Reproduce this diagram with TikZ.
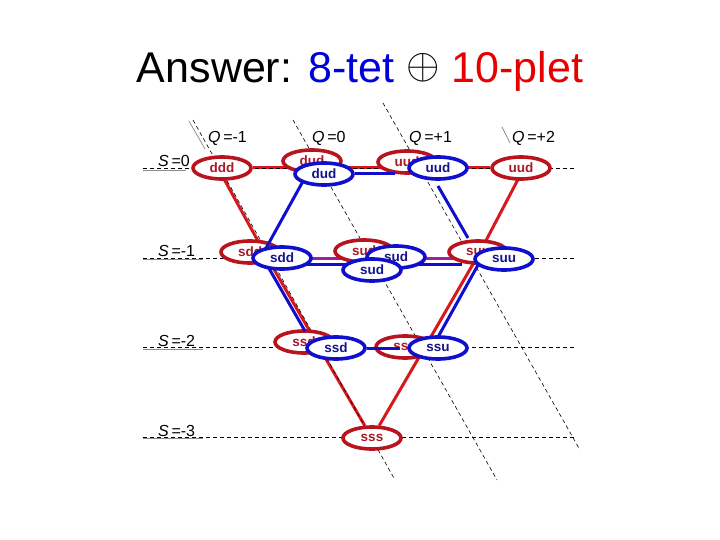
\documentclass[tikz,border=0pt]{standalone}
\usepackage{fontspec}
\setmainfont{Liberation Sans}
\usetikzlibrary{shapes.geometric,calc}
\definecolor{rline}{RGB}{215,25,30}
\definecolor{rdraw}{RGB}{185,20,30}
\definecolor{rtext}{RGB}{170,25,40}
\definecolor{bdraw}{RGB}{15,15,205}
\definecolor{btext}{RGB}{20,20,140}
\definecolor{purp}{RGB}{160,30,160}
\definecolor{tblue}{RGB}{0,0,220}
\definecolor{tred}{RGB}{230,0,0}
\pgfdeclarelayer{lbg}
\pgfdeclarelayer{lzero}
\pgfdeclarelayer{lone}
\pgfdeclarelayer{ltwo}
\pgfdeclarelayer{lthree}
\pgfdeclarelayer{lfour}
\pgfsetlayers{lbg,lzero,lone,ltwo,main,lthree,lfour}
\begin{document}
\begin{tikzpicture}[x=1pt,y=-1pt,
 particle/.style={ellipse, minimum width=58pt, minimum height=22pt, inner sep=0pt, line width=3.6pt, fill=white, font=\fontsize{13.5}{14}\selectfont\bfseries},
 dec/.style={particle, draw=rdraw, text=rtext},
 oct/.style={particle, draw=bdraw, text=btext},
 rl/.style={line width=3pt, rline},
 bl/.style={line width=3pt, bdraw},
 pl/.style={line width=3pt, purp},
 gridline/.style={dash pattern=on 4pt off 3pt, line width=0.6pt, black},
 tickline/.style={line width=0.8pt, black!45},
 lab/.style={font=\fontsize{16}{16}\selectfont, anchor=base west, inner sep=0pt}]
\begin{pgfonlayer}{lbg}
\fill[white] (0,0) rectangle (720,540);
\end{pgfonlayer}
\useasboundingbox (0,0) rectangle (720,540);

% title
\node[anchor=base, inner sep=0pt, font=\fontsize{43}{43}\selectfont] (title) at (360,83)
  {Answer: \textcolor{tblue}{8-tet} {\fontsize{10}{10}\selectfont\raisebox{4pt}{\scalebox{4.3}{$\oplus$}}} \textcolor{tred}{10-plet}};

% decuplet (red) nodes
\node[dec] (ddd)  at (222,168) {ddd};
\node[dec] (dudR) at (312,161) {dud};
\node[dec] (uudR) at (407,162) {uud};
\node[dec] (uuu)  at (521,168) {uud};
\node[dec] (sddR) at (250,252) {sdd};
\node[dec] (sudR) at (364,251) {sud};
\node[dec] (suuR) at (478,252) {suu};
\node[dec] (ssdR) at (304,342) {ssd};
\node[dec] (ssuR) at (405,347) {ssu};
\node[dec] (sss)  at (372,438) {sss};

% octet (blue) nodes
\begin{pgfonlayer}{lfour}
\node[oct] (dudB)  at (324,174) {dud};
\node[oct] (uudB)  at (438,168) {uud};
\node[oct] (sddB)  at (282,258) {sdd};
\node[oct] (sudB1) at (396,257) {sud};
\node[oct] (sudB2) at (372,270) {sud};
\node[oct] (suuB)  at (504,259) {suu};
\node[oct] (ssdB)  at (336,348) {ssd};
\node[oct] (ssuB)  at (438,348) {ssu};
\end{pgfonlayer}

% red connectors
\begin{pgfonlayer}{lzero}
\draw[rl] (ddd) -- (uuu);
\draw[rl] ($(ddd)+(-4,0)$) -- ($(sddR)+(14,0)$);
\draw[rl] ($(sddR)+(14,0)$) -- ($(ssdR)+(12,0)$);
\draw[rl] ($(ssdR)+(12,0)$) -- (sss);
\draw[rl] ($(uuu)+(3,0)$) -- ($(suuR)+(2,0)$);
\draw[rl] ($(suuR)+(2,0)$) -- ($(ssuR)+(20,0)$);
\draw[rl] ($(ssuR)+(20,0)$) -- (sss);
\end{pgfonlayer}

% grid: S and Q lines
\begin{pgfonlayer}{lone}
\foreach \yy in {168,258,347,437}{
  \draw[gridline] (143,\yy) -- (575,\yy);
}
\draw[tickline] (143,170) -- (186,170);
\draw[tickline] (143,259.5) -- (203,259.5);
\draw[tickline] (143,349) -- (203,349);
\draw[tickline] (143,438.5) -- (203,438.5);
\draw[gridline] (193,120) -- (395,480);
\draw[gridline] (293,120) -- (497,480);
\draw[gridline] (383,103) -- (580,450);
\draw[tickline] (189,121) -- (205,149);
\draw[tickline] (502,127) -- (510,143);
\node[lab] (s0) at (158,167) {\textit{S}\,=0};
\node[lab] (s1) at (158,256) {\textit{S}\,=-1};
\node[lab] (s2) at (158,346) {\textit{S}\,=-2};
\node[lab] (s3) at (158,436) {\textit{S}\,=-3};
\node[lab] (q1) at (208,143) {\textit{Q}\,=-1};
\node[lab] (q2) at (312,143) {\textit{Q}\,=0};
\node[lab] (q3) at (409,143) {\textit{Q}\,=+1};
\node[lab] (q4) at (512,143) {\textit{Q}\,=+2};
\end{pgfonlayer}

% purple S=-1 line
\begin{pgfonlayer}{ltwo}
\draw[pl] ($(sddR)+(0,6)$) -- ($(suuR)+(0,6)$);
\end{pgfonlayer}

% blue connectors
\begin{pgfonlayer}{lthree}
\draw[bl] (dudB) -- ($(dudB)+(71,0)$);
\draw[bl] ($(dudB)+(-17,0)$) -- ($(sddB)+(-17,-8)$);
\draw[bl] ($(sddB)+(-19,0)$) -- ($(ssdB)+(-31,-17)$);
\draw[bl] ($(sddB)+(0,6)$) -- ($(sudB2)+(0,-6)$);
\draw[bl] ($(sudB1)+(0,7)$) -- ($(suuB)+(-42,5)$);
\draw[bl] ($(uudB)+(0,18)$) -- ($(suuB)+(-36,-21)$);
\draw[bl] ($(suuB)+(-26,6)$) -- ($(ssuB)+(0,-11)$);
\draw[bl] (ssdB) -- ($(ssuB)+(-38,0)$);
\end{pgfonlayer}
\end{tikzpicture}
\end{document}
